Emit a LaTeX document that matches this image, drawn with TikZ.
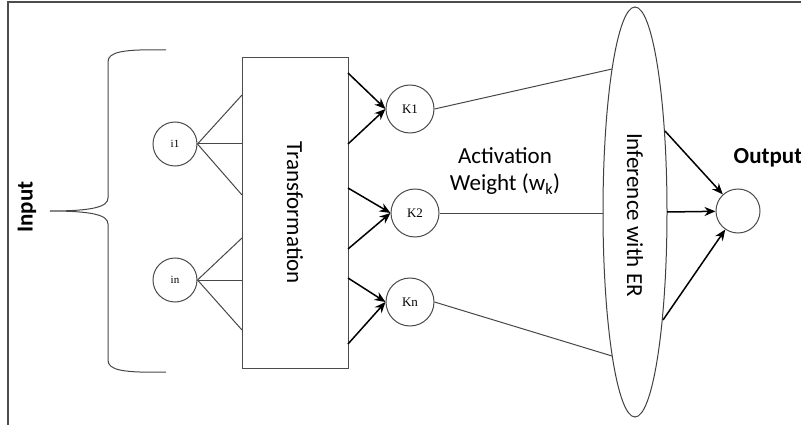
\documentclass[tikz,border=0pt]{standalone}
\usepackage{fontspec}
\setmainfont{Carlito}
\newfontfamily\serifk{Liberation Serif}
\usetikzlibrary{shapes.geometric,arrows.meta}
\begin{document}
\begin{tikzpicture}[x=1pt,y=-1pt,
  ln/.style={draw=black!72, line width=1pt},
  arr/.style={draw=black, line width=1.5pt, -{Stealth[length=11pt,width=9pt]}},
  inc/.style={circle, draw=black!70, line width=1pt, minimum size=44pt, inner sep=0pt, font=\serifk\fontsize{11}{11}\selectfont},
  kc/.style={circle, draw=black!70, line width=1pt, minimum size=48pt, inner sep=0pt, font=\serifk\fontsize{13}{13}\selectfont},
  lbl/.style={font=\fontsize{23}{27}\selectfont, align=center, inner sep=0pt}
]
\useasboundingbox (0,0) rectangle (801,425);
\fill[white] (0,0) rectangle (801,425);
\draw[black!70, line width=2pt] (8,425) -- (8,2) -- (801,2);

% brace
\draw[ln] (166,50) .. controls (122,49) and (108,52) .. (108,62) -- (108,198)
  .. controls (108,207) and (92,211) .. (50,211)
  .. controls (92,211) and (108,215) .. (108,224) -- (108,360)
  .. controls (108,370) and (122,373) .. (166,372);
\node[lbl, font=\bfseries\fontsize{23}{27}\selectfont, rotate=90] (input) at (27,207) {Input};

% inputs
\node[inc] (i1) at (175,144) {i1};
\node[inc] (in) at (175,280) {in};

% transformation
\node[draw=black!70, line width=1pt, minimum width=106pt, minimum height=310pt, inner sep=0pt] (T) at (295,213) {};
\node[lbl, rotate=-90] (Tl) at (295,213) {Transformation};

\coordinate (a1) at (242,95);
\coordinate (a2) at (242,144);
\coordinate (a3) at (242,195);
\coordinate (b1) at (242,238);
\coordinate (b2) at (242,280);
\coordinate (b3) at (242,330);
\draw[ln] (i1.east) -- (a1);
\draw[ln] (i1.east) -- (a2);
\draw[ln] (i1.east) -- (a3);
\draw[ln] (in.east) -- (b1);
\draw[ln] (in.east) -- (b2);
\draw[ln] (in.east) -- (b3);

% K nodes
\node[kc] (K1) at (410,109) {K1};
\node[kc] (K2) at (415,213) {K2};
\node[kc] (Kn) at (410,302) {Kn};

\coordinate (r1) at (348,73);
\coordinate (r2) at (348,144);
\coordinate (r3) at (348,188);
\coordinate (r4) at (348,249);
\coordinate (r5) at (348,278);
\coordinate (r6) at (348,344);
\draw[arr] (r1) -- (K1.west);
\draw[arr] (r2) -- (K1.west);
\draw[arr] (r3) -- (K2.west);
\draw[arr] (r4) -- (K2.west);
\draw[arr] (r5) -- (Kn.west);
\draw[arr] (r6) -- (Kn.west);

% ellipse
\node[ellipse, draw=black!75, line width=1pt, minimum width=64pt, minimum height=410pt, inner sep=0pt] (E) at (635,212) {};
\node[lbl, rotate=-90] (El) at (635,215) {Inference with ER};

\coordinate (e1) at (612,69);
\coordinate (e2) at (603,213);
\coordinate (e3) at (612,356);
\draw[ln] (K1.east) -- (e1);
\draw[ln] (K2.east) -- (e2);
\draw[ln] (Kn.east) -- (e3);

\node[lbl] (act) at (505,171) {Activation\\Weight (w\textsubscript{k})};

% output
\node[circle, draw=black!70, line width=1pt, minimum size=44pt, inner sep=0pt] (O) at (738,211) {};
\node[lbl, font=\bfseries\fontsize{23}{27}\selectfont] (Ol) at (768,158) {Output};
\coordinate (o1) at (665,131);
\coordinate (o2) at (667,212);
\coordinate (o3) at (663,320);
\draw[arr] (o1) -- (O);
\draw[arr] (o2) -- (O);
\draw[arr] (o3) -- (O);
\end{tikzpicture}
\end{document}
